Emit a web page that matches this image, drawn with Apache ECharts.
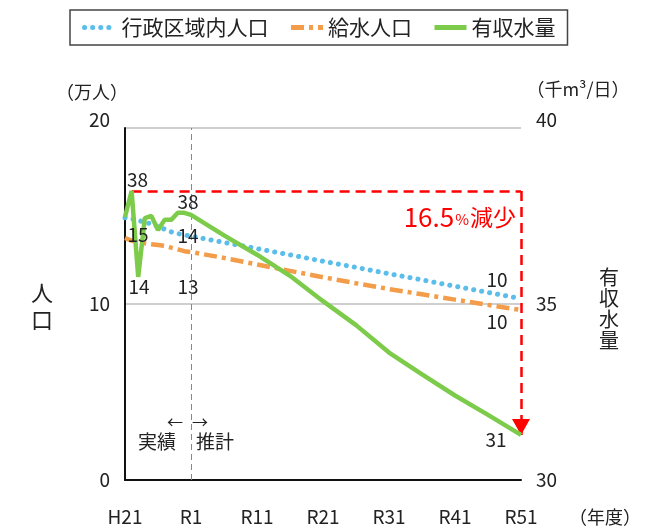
<!DOCTYPE html>
<html>
<head>
<meta charset="utf-8">
<script src="https://cdn.jsdelivr.net/npm/echarts@6/dist/echarts.min.js"></script>
<style>html,body{margin:0;padding:0;background:#fff}#c{width:651px;height:528px}</style>
</head>
<body>
<div id="c"></div>
<script>
var years = ['H21','H22','H23','H24','H25','H26','H27','H28','H29','H30',
  'R1','R2','R3','R4','R5','R6','R7','R8','R9','R10',
  'R11','R12','R13','R14','R15','R16','R17','R18','R19','R20',
  'R21','R22','R23','R24','R25','R26','R27','R28','R29','R30',
  'R31','R32','R33','R34','R35','R36','R37','R38','R39','R40',
  'R41','R42','R43','R44','R45','R46','R47','R48','R49','R50','R51'];
var actualYears = ['H21','H22','H23','H24','H25','H26','H27','H28','H29','H30','R1'];
var projYears = ['R1','R6','R11','R16','R21','R26','R31','R36','R41','R46','R51'];
var adminPopActual = [14.9,14.85,14.75,14.65,14.55,14.4,14.25,14.1,14.0,13.92,13.85];
var adminPopProj = [13.85,13.5,13.14,12.79,12.43,12.08,11.72,11.37,11.01,10.66,10.3];
var servedPopActual = [13.75,13.6,13.5,13.45,13.4,13.35,13.3,13.2,13.1,13.0,12.95];
var servedPopProj = [12.95,12.62,12.25,11.88,11.52,11.18,10.85,10.55,10.25,9.95,9.66];
var waterActual = [37.47,38.21,35.77,37.44,37.5,37.1,37.39,37.39,37.59,37.59,37.53];
var waterProj = [37.53,36.95,36.4,35.8,35.08,34.4,33.62,33.0,32.4,31.85,31.28];
var leftTicks = [0, 10, 20];
var rightTicks = [30, 35, 40];

var FONT = '"Noto Sans CJK JP", "Noto Sans", sans-serif';
var TXT = '#222';

function build(act, proj) {
  var d = actualYears.map(function (y, i) { return [y, act[i]]; });
  return d.concat(projYears.slice(1).map(function (y, i) { return [y, proj[i + 1]]; }));
}
function mp(cat, val, off) {
  return { coord: [cat, val], value: Math.round(val), label: { offset: off } };
}
var mpBase = {
  symbol: 'circle', symbolSize: 0, silent: true, z: 10,
  label: { show: true, position: 'inside', color: TXT, fontSize: 19, fontFamily: FONT,
    formatter: function (p) { return p.value; } }
};

var chart = echarts.init(document.getElementById('c'));
chart.setOption({
  animation: false,
  textStyle: { fontFamily: FONT },
  legend: {
    left: 70, top: 10, padding: [7, 12, 7, 12], itemGap: 20, itemWidth: 32, itemHeight: 14,
    borderColor: '#444', borderWidth: 1.5,
    itemStyle: { opacity: 0 },
    lineStyle: { width: 5 },
    textStyle: { fontSize: 21, color: TXT, fontFamily: FONT },
    data: ['行政区域内人口', '給水人口', '有収水量']
  },
  grid: { left: 125, right: 130, top: 128, bottom: 48 },
  xAxis: {
    type: 'category', data: years, boundaryGap: false,
    axisLine: { lineStyle: { color: '#111', width: 2 } },
    axisTick: { show: false },
    axisLabel: { interval: 9, margin: 27, fontSize: 19, color: TXT, fontFamily: FONT }
  },
  yAxis: [{
    type: 'value', min: leftTicks[0], max: leftTicks[2], interval: leftTicks[1] - leftTicks[0],
    axisLine: { show: true, lineStyle: { color: '#111', width: 2 } },
    axisTick: { show: false },
    splitLine: { lineStyle: { color: '#cfcfcf', width: 2 } },
    axisLabel: { margin: 15, fontSize: 19, color: TXT, fontFamily: FONT,
      formatter: function (v) { return v === leftTicks[2] ? '{t|' + v + '}' : String(v); },
      rich: { t: { fontSize: 19, color: TXT, fontFamily: FONT, padding: [0, 0, 16, 0] } } }
  }, {
    type: 'value', min: rightTicks[0], max: rightTicks[2], interval: rightTicks[1] - rightTicks[0],
    axisLine: { show: false }, axisTick: { show: false }, splitLine: { show: false },
    axisLabel: { margin: 15, fontSize: 19, color: TXT, fontFamily: FONT,
      formatter: function (v) { return v === rightTicks[2] ? '{t|' + v + '}' : String(v); },
      rich: { t: { fontSize: 19, color: TXT, fontFamily: FONT, padding: [0, 0, 16, 0] } } }
  }],
  series: [{
    name: '行政区域内人口', type: 'line', yAxisIndex: 0, symbol: 'none', connectNulls: true,
    data: build(adminPopActual, adminPopProj),
    lineStyle: { color: '#5bbde9', width: 5, type: [0.1, 8], cap: 'round' },
    itemStyle: { color: '#5bbde9' },
    markLine: {
      silent: true, symbol: ['none', 'none'], label: { show: false },
      lineStyle: { color: '#888', width: 1, type: [6, 4] },
      data: [{ xAxis: 'R1' }]
    },
    markPoint: Object.assign({}, mpBase, { data: [
      mp('H21', adminPopActual[0], [13, 17]),
      mp('R1', adminPopActual[10], [-3, 0]),
      mp('R51', adminPopProj[10], [-24, -19])
    ] })
  }, {
    name: '給水人口', type: 'line', yAxisIndex: 0, symbol: 'none', connectNulls: true,
    data: build(servedPopActual, servedPopProj),
    lineStyle: { color: '#f39c4a', width: 4.5, type: [13, 5, 4, 5] },
    itemStyle: { color: '#f39c4a' },
    markPoint: Object.assign({}, mpBase, { data: [
      mp('H21', servedPopActual[0], [14, 49]),
      mp('R1', servedPopActual[10], [-3, 35]),
      mp('R51', servedPopProj[10], [-24, 12])
    ] })
  }, {
    name: '有収水量', type: 'line', yAxisIndex: 1, symbol: 'none', connectNulls: true, z: 5,
    data: build(waterActual, waterProj),
    lineStyle: { color: '#7dcb4a', width: 4.5 },
    itemStyle: { color: '#7dcb4a' },
    markLine: {
      silent: true, label: { show: false },
      symbolOffset: [[0, 0], [0, 8]],
      lineStyle: { color: '#ff0000', width: 2.5, type: [10, 6] },
      data: [
        [{ coord: ['H22', waterActual[1]], symbol: 'none' }, { coord: ['R51', waterActual[1]], symbol: 'none' }],
        [{ coord: ['R51', waterActual[1]], symbol: 'none' }, { coord: ['R51', waterProj[10]], symbol: 'triangle', symbolSize: [18, 16] }]
      ]
    },
    markPoint: Object.assign({}, mpBase, { data: [
      mp('H22', waterActual[1], [6, -11]),
      mp('R1', waterActual[10], [-3, -13]),
      mp('R51', waterProj[10], [-25, 5])
    ] })
  }],
  graphic: [
    { type: 'text', x: 92, y: 92, style: { text: '（万人）', fontSize: 18, fontFamily: FONT, fill: TXT, align: 'center', verticalAlign: 'middle' } },
    { type: 'text', x: 578, y: 89, style: { text: '（千m³/日）', fontSize: 18, fontFamily: FONT, fill: TXT, align: 'center', verticalAlign: 'middle' } },
    { type: 'text', x: 605, y: 517, style: { text: '（年度）', fontSize: 18, fontFamily: FONT, fill: TXT, align: 'center', verticalAlign: 'middle' } },
    { type: 'text', x: 42, y: 306, style: { text: '人\n口', fontSize: 22, lineHeight: 27, fontFamily: FONT, fill: TXT, align: 'center', verticalAlign: 'middle' } },
    { type: 'text', x: 609, y: 309, style: { text: '有\n収\n水\n量', fontSize: 20, lineHeight: 21, fontFamily: FONT, fill: TXT, align: 'center', verticalAlign: 'middle' } },
    { type: 'text', x: 175, y: 422, style: { text: '←', fontSize: 16, fontFamily: FONT, fill: TXT, align: 'center', verticalAlign: 'middle' } },
    { type: 'text', x: 200, y: 422, style: { text: '→', fontSize: 16, fontFamily: FONT, fill: TXT, align: 'center', verticalAlign: 'middle' } },
    { type: 'text', x: 157, y: 442, style: { text: '実績', fontSize: 19, fontFamily: FONT, fill: TXT, align: 'center', verticalAlign: 'middle' } },
    { type: 'text', x: 215, y: 442, style: { text: '推計', fontSize: 19, fontFamily: FONT, fill: TXT, align: 'center', verticalAlign: 'middle' } },
    { type: 'text', x: 516, y: 217, style: { text: '{a|16.5}{b|%}{c|減少}', fill: '#ff0000', align: 'right', verticalAlign: 'middle',
      rich: { a: { fontSize: 26, fontFamily: FONT, fill: '#ff0000' },
              b: { fontSize: 15, fontFamily: FONT, fill: '#ff0000', padding: [5, 1, 0, 1] },
              c: { fontSize: 23, fontFamily: FONT, fill: '#ff0000' } } } }
  ]
});
</script>
</body>
</html>
